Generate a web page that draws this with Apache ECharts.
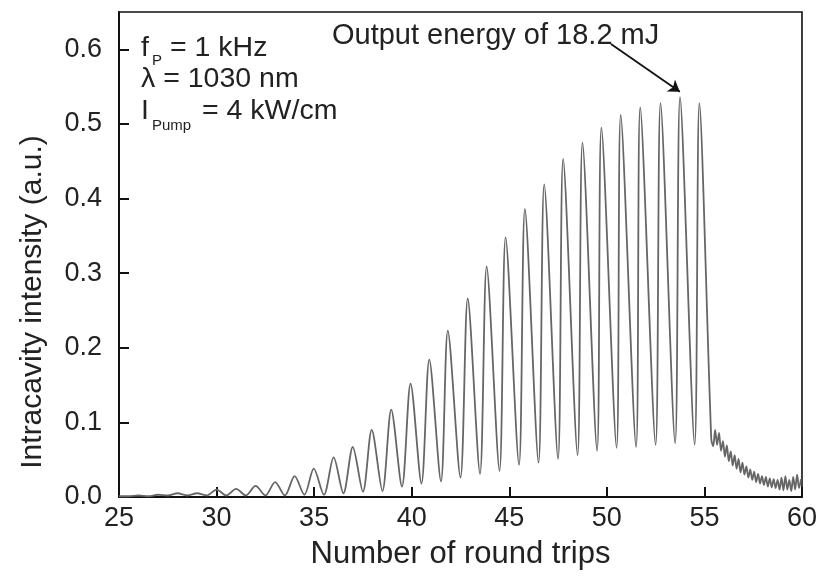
<!DOCTYPE html>
<html>
<head>
<meta charset="utf-8">
<script src="https://cdn.jsdelivr.net/npm/echarts@6/dist/echarts.min.js"></script>
<style>
html,body{margin:0;padding:0;background:#fff;}
#chart{width:820px;height:577px;}
</style>
</head>
<body>
<div id="chart"></div>
<script>
// Round trips & intensity
const startPoint = [25.0, 0.001];
const troughX = [25.5,26.5,27.5,28.5,29.5,30.5,31.5,32.5,33.5,34.5,35.5,36.5,37.5,38.5,39.5,40.5,41.5,42.5,43.5,44.5,45.5,46.5,47.5,48.5,49.5,50.5,51.5,52.5,53.5,54.5];
const troughY = [0.001,0.001,0.002,0.002,0.002,0.002,0.002,0.002,0.002,0.003,0.003,0.005,0.007,0.008,0.014,0.018,0.021,0.026,0.031,0.035,0.043,0.046,0.051,0.056,0.062,0.066,0.067,0.070,0.072,0.070];
const peakX = [26,27,28,29,30,31,32,33,34,34.98,36,36.98,37.95,38.95,39.94,40.9,41.85,42.87,43.84,44.81,45.8,46.79,47.76,48.75,49.72,50.71,51.71,52.75,53.75,54.74];
const peakY = [0.002,0.003,0.005,0.005,0.010,0.011,0.015,0.020,0.028,0.038,0.053,0.067,0.090,0.117,0.152,0.184,0.223,0.266,0.309,0.348,0.386,0.419,0.453,0.475,0.495,0.512,0.522,0.528,0.536,0.528];
const tailX = [55.35,55.45,55.55,55.65,55.75,55.85,55.95,56.05,56.15,56.25,56.35,56.45,56.55,56.65,56.75,56.85,56.95,57.05,57.15,57.25,57.35,57.45,57.55,57.65,57.75,57.85,57.95,58.05,58.15,58.25,58.35,58.45,58.55,58.65,58.75,58.85,58.95,59.05,59.15,59.25,59.35,59.45,59.55,59.65,59.75,59.85,59.95];
const tailY = [0.078,0.068,0.090,0.070,0.086,0.062,0.075,0.054,0.069,0.048,0.061,0.042,0.056,0.038,0.051,0.033,0.046,0.030,0.041,0.026,0.037,0.023,0.034,0.020,0.031,0.018,0.028,0.016,0.027,0.014,0.025,0.013,0.024,0.012,0.023,0.010,0.026,0.009,0.028,0.010,0.023,0.008,0.027,0.010,0.030,0.012,0.024];
const xTicks = [25,30,35,40,45,50,55,60];
const yTicks = [0.0,0.1,0.2,0.3,0.4,0.5,0.6];
const arrowFrom = [50.21, 0.607];
const arrowTo = [53.74, 0.543];

const series = [startPoint];
for (let i = 0; i < peakX.length; i++) {
  series.push([troughX[i], troughY[i]]);
  series.push([peakX[i], peakY[i]]);
}
for (let i = 0; i < tailX.length; i++) series.push([tailX[i], tailY[i]]);

const FONT = '"Liberation Sans", Arial, sans-serif';
const chart = echarts.init(document.getElementById('chart'), null, {renderer: 'canvas'});
chart.setOption({
  backgroundColor: '#ffffff',
  animation: false,
  grid: {left: 119, right: 17, top: 12, bottom: 80, show: true, borderColor: '#111', borderWidth: 1.6, backgroundColor: 'transparent'},
  xAxis: {
    type: 'value', min: xTicks[0], max: xTicks[xTicks.length-1], interval: 5,
    name: 'Number of round trips', nameLocation: 'middle', nameGap: 42,
    nameTextStyle: {fontFamily: FONT, fontSize: 31, color: '#222'},
    axisLine: {show: true, lineStyle: {color: '#111', width: 2}},
    axisTick: {show: true, inside: true, length: 10, lineStyle: {color: '#111', width: 2}},
    axisLabel: {fontFamily: FONT, fontSize: 27, color: '#222', margin: 8},
    splitLine: {show: false}
  },
  yAxis: {
    type: 'value', min: 0, max: 0.65, interval: 0.1,
    axisLine: {show: true, lineStyle: {color: '#111', width: 2}},
    axisTick: {show: true, inside: true, length: 10, lineStyle: {color: '#111', width: 2}},
    axisLabel: {fontFamily: FONT, fontSize: 27, color: '#222', margin: 17, showMaxLabel: false,
      formatter: v => (yTicks.some(t => Math.abs(t - v) < 1e-9) ? v.toFixed(1) : '')},
    splitLine: {show: false}
  },
  series: [{
    type: 'line', data: series, showSymbol: false, smooth: 0.3,
    lineStyle: {color: '#666', width: 1.8},
    markLine: {
      silent: true, animation: false,
      symbol: ['none', 'arrow'], symbolSize: 11,
      lineStyle: {color: '#111', width: 1.8, type: 'solid'},
      label: {show: false},
      data: [[{coord: arrowFrom}, {coord: arrowTo}]]
    }
  }],
  graphic: [
    {type: 'text', x: 33, y: 302, rotation: Math.PI/2,
     style: {text: 'Intracavity intensity (a.u.)', font: '30px ' + FONT, fill: '#222', align: 'center', verticalAlign: 'middle'}},
    {type: 'text', x: 332, y: 36, style: {text: 'Output energy of 18.2 mJ', font: '29px ' + FONT, fill: '#222', align: 'left', verticalAlign: 'middle'}},
    {type: 'text', x: 141, y: 48, style: {text: 'f', font: '28.5px ' + FONT, fill: '#222', verticalAlign: 'middle'}},
    {type: 'text', x: 152, y: 61, style: {text: 'P', font: '15px ' + FONT, fill: '#222', verticalAlign: 'middle'}},
    {type: 'text', x: 170, y: 48, style: {text: '= 1 kHz', font: '28.5px ' + FONT, fill: '#222', verticalAlign: 'middle'}},
    {type: 'text', x: 141, y: 79, style: {text: 'λ = 1030 nm', font: '28.5px ' + FONT, fill: '#222', verticalAlign: 'middle'}},
    {type: 'text', x: 141, y: 111, style: {text: 'I', font: '28.5px ' + FONT, fill: '#222', verticalAlign: 'middle'}},
    {type: 'text', x: 152, y: 126, style: {text: 'Pump', font: '15px ' + FONT, fill: '#222', verticalAlign: 'middle'}},
    {type: 'text', x: 202, y: 111, style: {text: '= 4 kW/cm', font: '28.5px ' + FONT, fill: '#222', verticalAlign: 'middle'}}
  ]
});
</script>
</body>
</html>
